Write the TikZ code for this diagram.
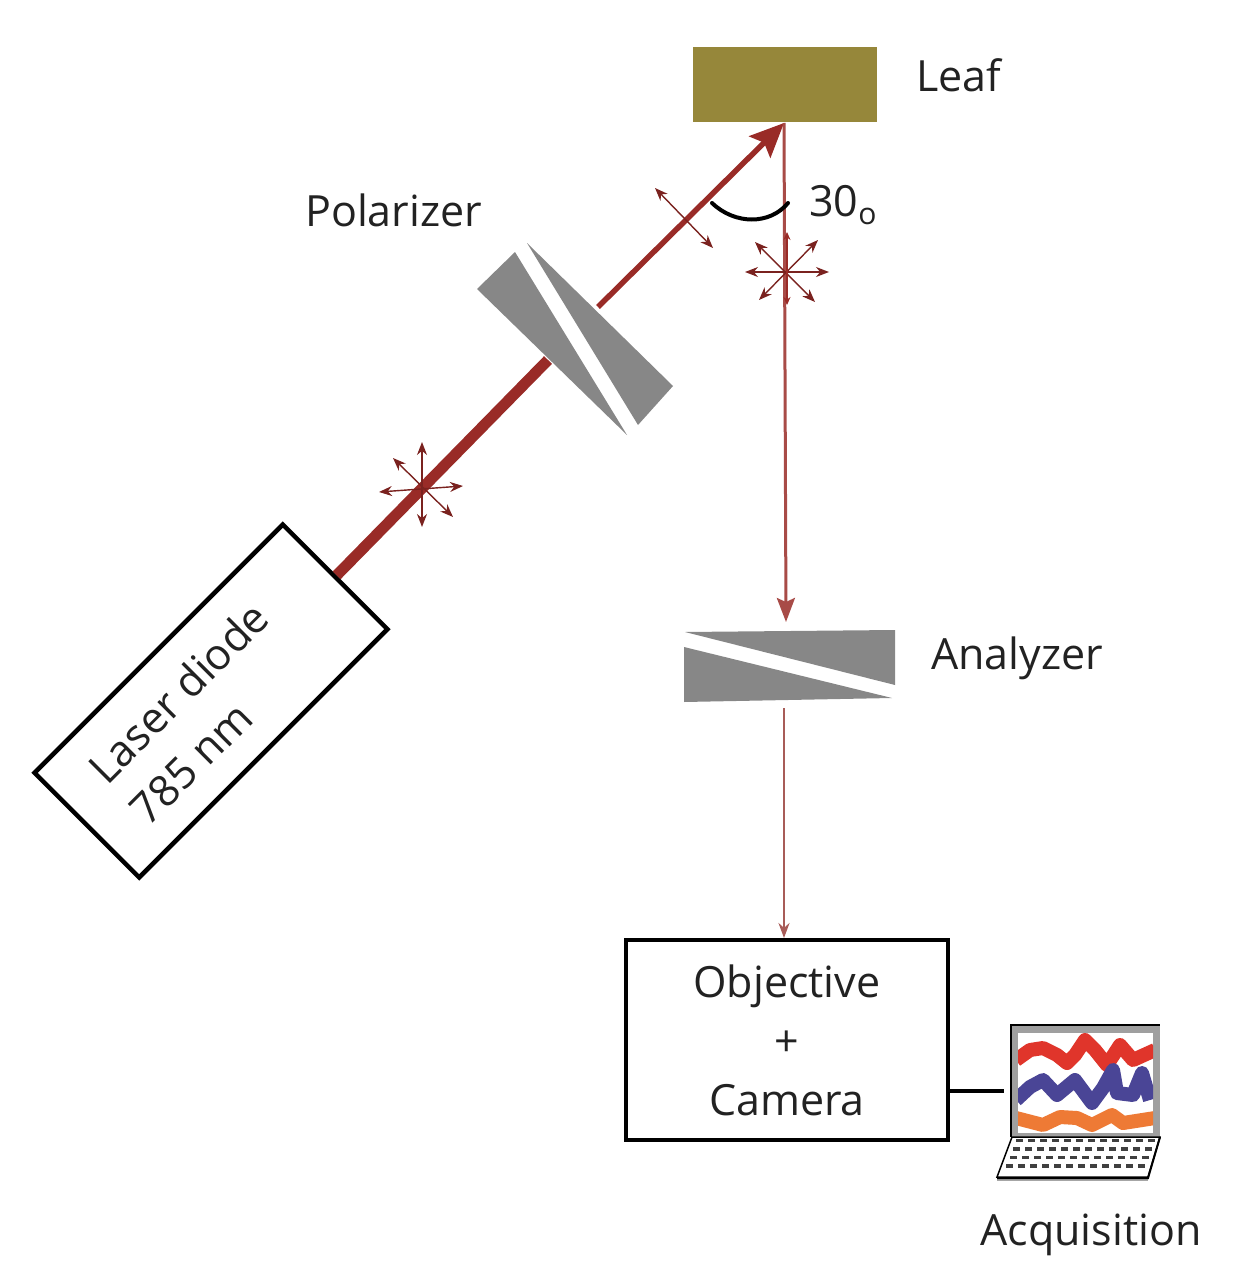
\documentclass[tikz,border=0pt]{standalone}
\usepackage{fontspec}
\setmainfont{Open Sans}
\usetikzlibrary{arrows.meta, calc}
\definecolor{beamc}{HTML}{992B27}
\definecolor{beamlight}{HTML}{A85C58}
\definecolor{leafc}{HTML}{96873A}
\definecolor{wedgec}{HTML}{878787}
\definecolor{textc}{HTML}{222222}
\definecolor{tracered}{HTML}{E0352B}
\definecolor{traceblue}{HTML}{4A4596}
\definecolor{traceorange}{HTML}{EE7A35}
\begin{document}
\begin{tikzpicture}
                [x=1pt, y=-1pt,
                tsty/.style={text=textc, inner sep=0pt, font=\fontsize{43}{59}\selectfont},
                bsty/.style={draw=black, line width=4.5pt, fill=white},
                wsty/.style={fill=wedgec},
                asty/.style={{Stealth[length=13pt,width=10pt]}-{Stealth[length=13pt,width=10pt]}, beamc!80!black, line width=1.4pt},
                psty/.style={line width=14pt, line join=round}]
                \useasboundingbox (0,0) rectangle (1241,1284);
                % nodes
                \node[fill=leafc, minimum width=184pt, minimum height=75pt, inner sep=0pt] (leaf) at (785,84.5) {};
                \node[tsty, anchor=west] (leaflabel) at (916,75) {Leaf};
                \node[tsty, anchor=west] (pollabel) at (305,210) {Polarizer};
                \node[tsty, anchor=west] (analabel) at (931,658) {Analyzer};
                \node[tsty, anchor=west] (anglabel) at (809,205) {30\textsubscript{o}};
                \node[bsty, minimum width=351pt, minimum height=148pt, rotate=45, inner sep=0pt] (laser) at (211,701) {};
                \node[tsty, rotate=45, align=left] (laserlabel) at (199,713) {Laser diode\\785 nm};
                \node[bsty, tsty, align=center, minimum width=322pt, minimum height=200pt] (camera) at (787,1040) {Objective\\+\\Camera};
                \node[tsty, anchor=center] (acqlabel) at (1091,1235) {Acquisition};
                \coordinate (polin) at (548,360);
                \coordinate (polout) at (598,307);
                \coordinate (leafhit) at (784,123);
                \coordinate (anain) at (786,622);
                \coordinate (anaout) at (784,708);
                \coordinate (camin) at (784,938);
                \coordinate (pcin) at (1004,1091);
                % wedges
                \fill[wsty] (515,252) -- (477,289) -- (627,435) -- cycle;
                \fill[wsty] (527,243) -- (673,386) -- (638,425) -- cycle;
                \fill[wsty] (685,632) -- (895,630) -- (895,685) -- cycle;
                \fill[wsty] (684,647) -- (892,698) -- (684,702) -- cycle;
                % beams
                \draw[beamc, line width=11pt] (laser.east) -- (polin);
                \draw[beamc, line width=5.5pt, -{Stealth[length=34pt,width=30pt,inset=6pt]}] (polout) -- (leafhit);
                \draw[beamc!85!white, line width=3pt, -{Stealth[length=24pt,width=18pt,inset=4pt]}] (leafhit) -- (anain);
                \draw[beamlight, line width=2.2pt, -{Stealth[length=15pt,width=11pt]}] (anaout) -- (camin);
                \draw[black, line width=3.5pt] (camera.east |- pcin) -- (pcin);
                % polarisation
                \foreach \xa/\ya/\xb/\yb in {422/442/422/527, 379/492/463/486, 393/458/453/517, 655/188/713/248, 745/272/829/272, 755/242/815/302, 818/240/759/300}
                    \draw[asty] (\xa,\ya) -- (\xb,\yb);
                \draw[beamc, line width=1.2pt, {Stealth[length=8pt,width=7pt]}-{Stealth[length=8pt,width=7pt]}] (787,232) -- (787,305);
                % angle
                \draw[black, line width=4pt, line cap=round] (712,203) .. controls (735,225) and (770,225) .. (788,203);
                % laptop
                \fill[gray!75!white] (1011,1025) rectangle (1160,1138);
                \draw[black, line width=2pt] (1011,1137) -- (1011,1025) -- (1160,1025);
                \fill[white] (1018,1033) rectangle (1153,1133);
                \begin{scope}
                    \clip (1018,1033) rectangle (1153,1133);
                    \draw[psty, color=tracered] plot coordinates {(1016,1060)(1030,1050)(1043,1048)(1057,1055)(1067,1063)(1075,1055)(1085,1040)(1095,1050)(1107,1065)(1120,1045)(1133,1060)(1155,1050)};
                    \draw[psty, color=traceblue] plot coordinates {(1016,1100)(1030,1087)(1043,1080)(1057,1095)(1075,1080)(1092,1103)(1103,1088)(1113,1070)(1117,1093)(1133,1095)(1142,1073)(1150,1100)};
                    \draw[psty, color=traceorange] plot coordinates {(1016,1118)(1043,1125)(1060,1117)(1077,1118)(1092,1125)(1112,1115)(1123,1123)(1155,1118)};
                \end{scope}
                \draw[black, line width=1.5pt, fill=white] (1012,1137) -- (1160,1137) -- (1148,1177) -- (997,1177) -- cycle;
                \fill[gray!70!white] (997,1177) rectangle (1148,1181);
                \draw[black, line width=2pt] (997,1178) -- (1148,1178) -- (1160,1137);
                \foreach \r in {0,1,2,3}
                    \foreach \k in {0,...,11}
                        \fill[black!75] ({1016+\k*12-\r*3.2},{1142+\r*8.5}) rectangle +(7pt,3.5pt);
\end{tikzpicture}
\end{document}
